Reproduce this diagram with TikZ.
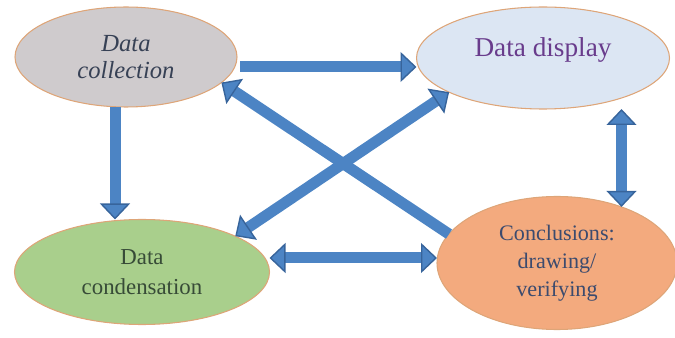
\documentclass[tikz,border=0pt]{standalone}
\usepackage{fontspec}
\setmainfont{Liberation Serif}
\usepackage{xcolor}
\usepackage{tikz}
\usetikzlibrary{shapes.geometric,arrows.meta,calc}

\definecolor{flowblue}{RGB}{76,132,196}
\definecolor{flowedge}{RGB}{55,100,155}
\definecolor{edgetan}{RGB}{222,165,120}
\definecolor{collgray}{RGB}{207,203,205}
\definecolor{dispblue}{RGB}{220,230,243}
\definecolor{condgreen}{RGB}{169,207,140}
\definecolor{conclorange}{RGB}{243,170,126}
\definecolor{collink}{RGB}{55,65,85}
\definecolor{dispink}{RGB}{105,60,140}
\definecolor{condink}{RGB}{55,75,55}
\definecolor{conclink}{RGB}{60,75,110}

\begin{document}
\begin{tikzpicture}[%
  stage/.style={ellipse, draw=edgetan, line width=0.6pt, inner sep=0pt, outer sep=0pt, align=center},
  flow/.style={line width=0.22cm, flowblue, -{Triangle[length=0.32cm,width=0.6cm,line width=0.8pt,fill=flowblue,color=flowedge]}},
  flowboth/.style={line width=0.22cm, flowblue, {Triangle[length=0.32cm,width=0.6cm,line width=0.8pt,fill=flowblue,color=flowedge]}-{Triangle[length=0.32cm,width=0.6cm,line width=0.8pt,fill=flowblue,color=flowedge]}}]
  \useasboundingbox (0,0) rectangle (13.5,-6.76);

  \node[stage, fill=collgray, minimum width=4.44cm, minimum height=2cm, text=collink,
    font=\fontsize{14}{15}\selectfont\itshape] (coll) at (2.52,-1.14) {Data\\collection};
  \node[stage, fill=dispblue, minimum width=5.06cm, minimum height=2.04cm, text=dispink,
    font=\fontsize{15.5}{17}\selectfont] (disp) at (10.86,-1.16) {\raisebox{0.16cm}[\height][\depth]{Data display}};
  \node[stage, fill=condgreen, minimum width=5.1cm, minimum height=2.1cm, text=condink,
    font=\fontsize{13}{17}\selectfont] (cond) at (2.84,-5.44) {Data\\condensation};
  \node[stage, fill=conclorange, minimum width=4.8cm, minimum height=2.66cm, text=conclink,
    font=\fontsize{12.6}{16}\selectfont] (concl) at (11.14,-5.26) {Conclusions:\\drawing/\\verifying};

  \draw[flow] ([shift={(0.06,-0.2)}]coll.east) -- ([yshift=-0.18cm]disp.west);
  \draw[flow] ([xshift=-0.22cm]coll.south) -- ([xshift=-0.22cm]coll.south |- cond.north);
  \draw[flow] (concl.165) -- (coll.-15);
  \draw[flowboth] (cond.21) -- (disp.200);
  \draw[flowboth] ([yshift=0.28cm]cond.east) -- ([yshift=0.28cm]cond.east -| concl.west);
  \draw[flowboth] (concl.41 |- disp.south) -- (concl.41);
\end{tikzpicture}
\end{document}
